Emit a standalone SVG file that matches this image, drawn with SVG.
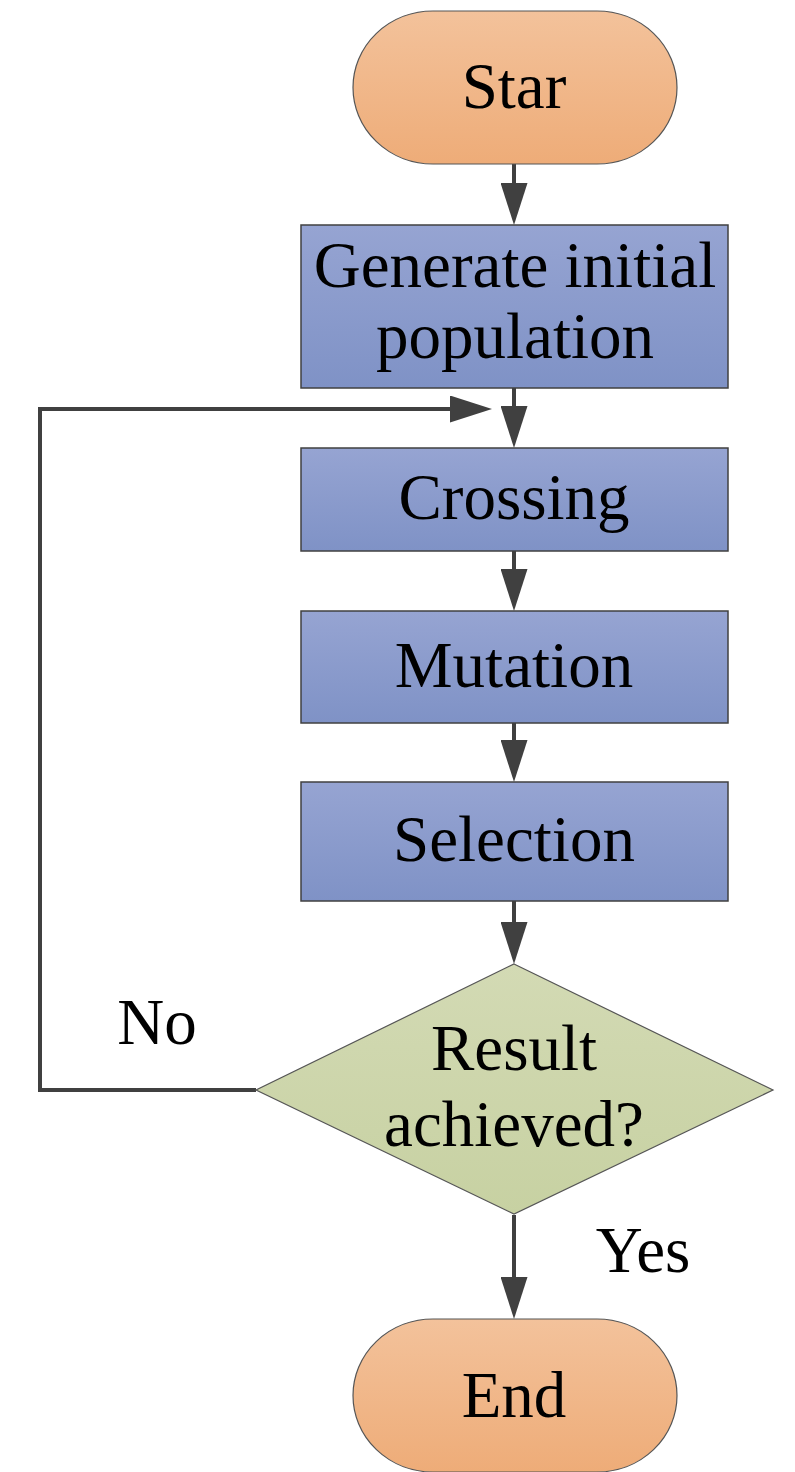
<svg xmlns="http://www.w3.org/2000/svg" width="795" height="1472" viewBox="0 0 795 1472">
  <defs>
    <linearGradient id="gOrange" x1="0" y1="0" x2="0" y2="1">
      <stop offset="0" stop-color="#F3C29B"/>
      <stop offset="1" stop-color="#EEAC78"/>
    </linearGradient>
    <linearGradient id="gBlue" x1="0" y1="0" x2="0" y2="1">
      <stop offset="0" stop-color="#96A4D2"/>
      <stop offset="1" stop-color="#7F92C6"/>
    </linearGradient>
    <linearGradient id="gGreen" x1="0" y1="0" x2="0" y2="1">
      <stop offset="0" stop-color="#D3DAB4"/>
      <stop offset="1" stop-color="#C7D1A2"/>
    </linearGradient>
    <marker id="arrow" viewBox="0 0 42 27" refX="32" refY="13.5" markerWidth="42" markerHeight="27" markerUnits="userSpaceOnUse" orient="auto">
      <path d="M0,0 L42,13.5 L0,27 Z" fill="#404040"/>
    </marker>
  </defs>
  <style>
    .term { fill: url(#gOrange); stroke: #555555; stroke-width: 1.2; }
    .proc { fill: url(#gBlue); stroke: #404040; stroke-width: 1.5; }
    .dec { fill: url(#gGreen); stroke: #555555; stroke-width: 1.2; }
    .lbl { font-family: "Liberation Serif", "Times New Roman", serif; font-size: 65px; fill: #000000; text-anchor: middle; }
    .conn { fill: none; stroke: #404040; stroke-width: 4; marker-end: url(#arrow); }
  </style>
  <rect width="795" height="1472" fill="#FFFFFF"/>

  <g id="connectors">
    <path class="conn" d="M514,164 V215"/>
    <path class="conn" d="M514,388 V438"/>
    <path class="conn" d="M514,551 V601"/>
    <path class="conn" d="M514,723 V772"/>
    <path class="conn" d="M514,901 V954"/>
    <path class="conn" d="M514,1215 V1309"/>
    <path class="conn" stroke-linejoin="miter" d="M256,1090 H40 V409 H482"/>
  </g>

  <g id="start">
    <rect class="term" x="353" y="11" width="324" height="153" rx="80" ry="76.5"/>
    <text class="lbl" x="514" y="108">Star</text>
  </g>

  <g id="generate">
    <rect class="proc" x="301" y="225" width="427" height="163"/>
    <text class="lbl" x="515" y="287">Generate initial</text>
    <text class="lbl" x="515" y="358">population</text>
  </g>

  <g id="crossing">
    <rect class="proc" x="301" y="448" width="427" height="103"/>
    <text class="lbl" x="514" y="519">Crossing</text>
  </g>

  <g id="mutation">
    <rect class="proc" x="301" y="611" width="427" height="112"/>
    <text class="lbl" x="514" y="687">Mutation</text>
  </g>

  <g id="selection">
    <rect class="proc" x="301" y="782" width="427" height="119"/>
    <text class="lbl" x="514" y="861">Selection</text>
  </g>

  <g id="decision">
    <polygon class="dec" points="514,964 773,1090 514,1214 256,1090"/>
    <text class="lbl" x="514" y="1070">Result</text>
    <text class="lbl" x="514" y="1146">achieved?</text>
  </g>

  <g id="end">
    <rect class="term" x="353" y="1319" width="324" height="153" rx="80" ry="76.5"/>
    <text class="lbl" x="514" y="1417">End</text>
  </g>

  <g id="labels">
    <text class="lbl" x="157" y="1044">No</text>
    <text class="lbl" x="643" y="1272">Yes</text>
  </g>
</svg>
